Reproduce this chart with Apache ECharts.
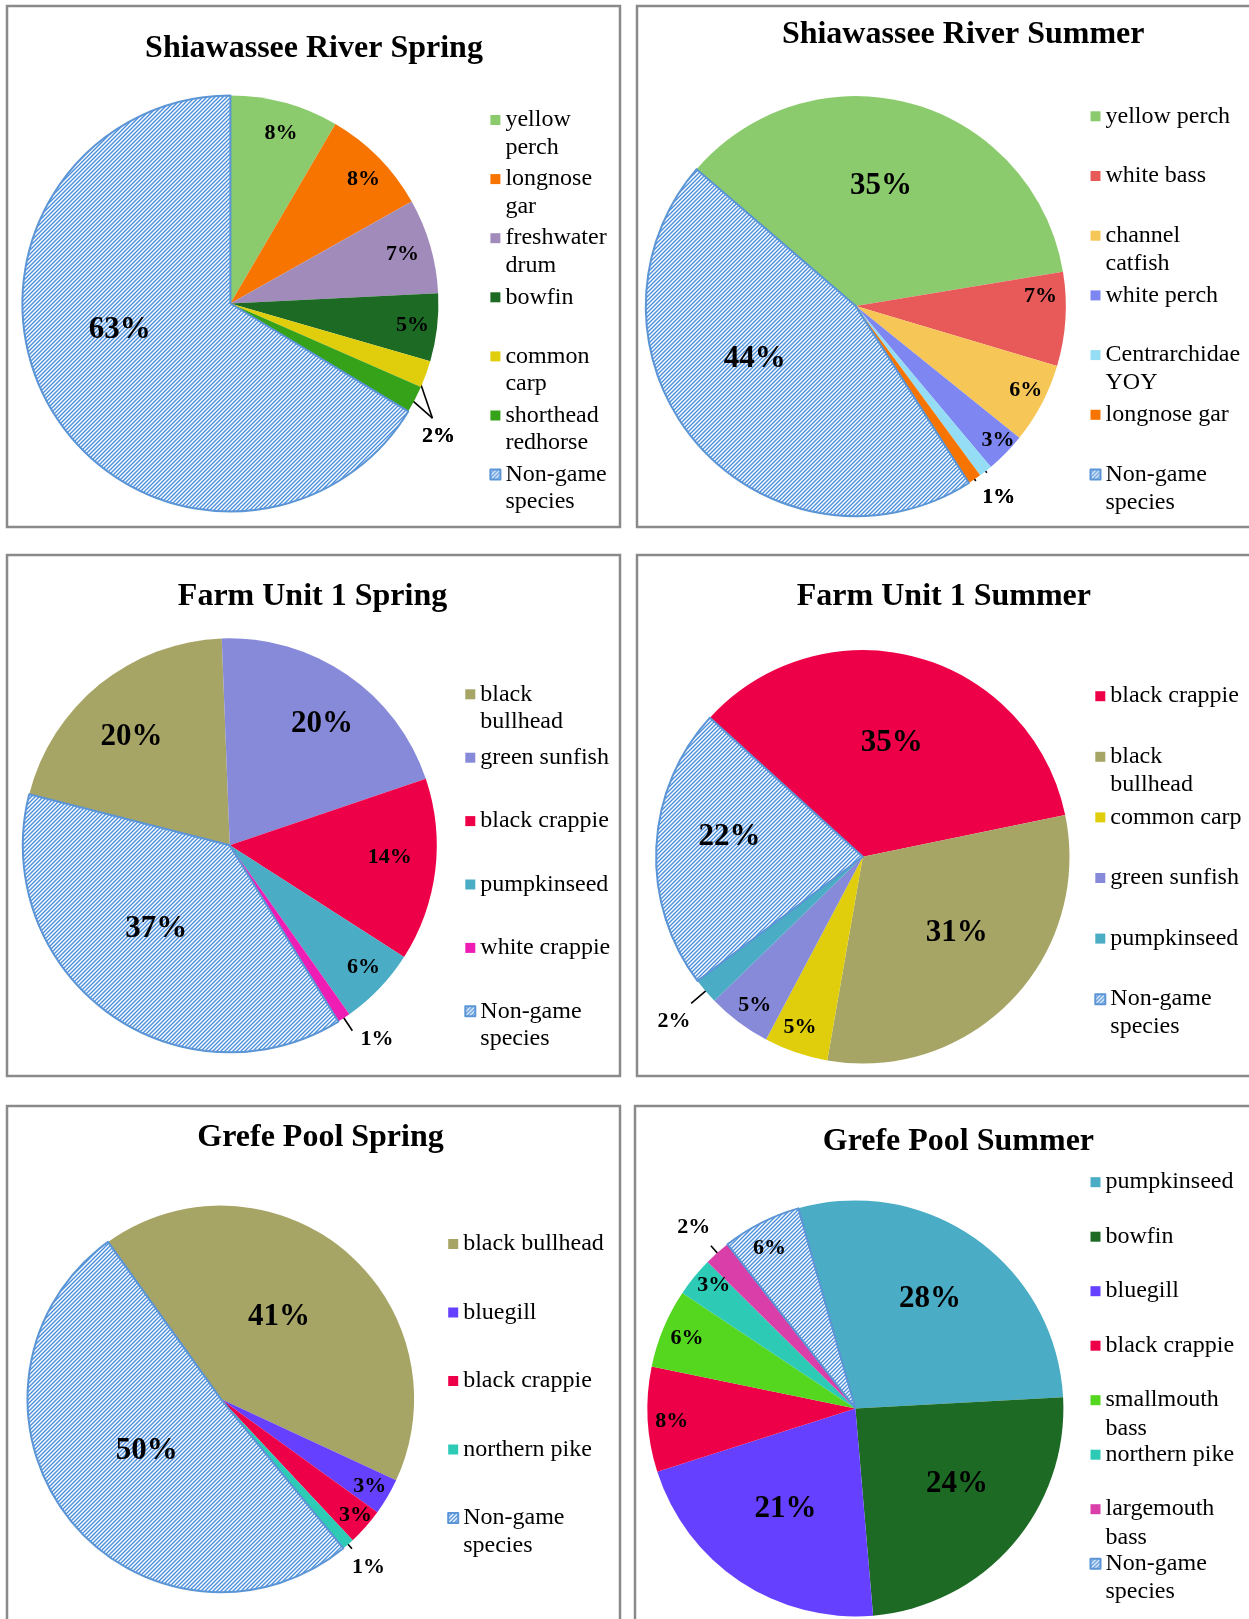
<!DOCTYPE html>
<html><head><meta charset="utf-8">
<script src="https://cdn.jsdelivr.net/npm/echarts@6/dist/echarts.min.js"></script>
<style>html,body{margin:0;padding:0;background:#fff}#c{width:1249px;height:1619px}</style>
</head><body><div id="c"></div>
<script>
// ---------- DATA ----------
const srSpringNames = ['yellow perch','longnose gar','freshwater drum','bowfin','common carp','shorthead redhorse','Non-game species'];
const srSpringValues = [8, 8, 7, 5, 2, 2, 63];
const srSpringLegend = ['yellow\nperch','longnose\ngar','freshwater\ndrum','bowfin\n ','common\ncarp','shorthead\nredhorse','Non-game\nspecies'];

const srSummerNames = ['yellow perch','white bass','channel catfish','white perch','Centrarchidae YOY','longnose gar','Non-game species'];
const srSummerValues = [35, 7, 6, 3, 1, 1, 44];
const srSummerLegend = ['yellow perch\n ','white bass\n ','channel\ncatfish','white perch\n ','Centrarchidae\nYOY','longnose gar\n ','Non-game\nspecies'];

const fuSpringNames = ['black bullhead','green sunfish','black crappie','pumpkinseed','white crappie','Non-game species'];
const fuSpringValues = [20, 20, 14, 6, 1, 37];
const fuSpringLegend = ['black\nbullhead','green sunfish\n ','black crappie\n ','pumpkinseed\n ','white crappie\n ','Non-game\nspecies'];

const fuSummerNames = ['black crappie','black bullhead','common carp','green sunfish','pumpkinseed','Non-game species'];
const fuSummerValues = [35, 31, 5, 5, 2, 22];
const fuSummerLegend = ['black crappie\n ','black\nbullhead','common carp\n ','green sunfish\n ','pumpkinseed\n ','Non-game\nspecies'];

const gpSpringNames = ['black bullhead','bluegill','black crappie','northern pike','Non-game species'];
const gpSpringValues = [41, 3, 3, 1, 50];
const gpSpringLegend = ['black bullhead\n ','bluegill\n ','black crappie\n ','northern pike\n ','Non-game\nspecies'];

const gpSummerNames = ['pumpkinseed','bowfin','bluegill','black crappie','smallmouth bass','northern pike','largemouth bass','Non-game species'];
const gpSummerValues = [28, 24, 21, 8, 6, 3, 2, 6];
const gpSummerLegend = ['pumpkinseed\n ','bowfin\n ','bluegill\n ','black crappie\n ','smallmouth\nbass','northern pike\n ','largemouth\nbass','Non-game\nspecies'];

// ---------- STYLE ----------
const colorMap = {
  'yellow perch':'#8BCB6D','longnose gar':'#F77400','freshwater drum':'#A18BBB','bowfin':'#1C6A23',
  'common carp':'#E0CE0C','shorthead redhorse':'#35A21A','white bass':'#E85A5A','channel catfish':'#F6C657',
  'white perch':'#7D86F1','Centrarchidae YOY':'#95DDF4','black bullhead':'#A7A566','green sunfish':'#878AD9',
  'black crappie':'#EE0048','pumpkinseed':'#4AACC5','white crappie':'#F01DB5','bluegill':'#6540FF',
  'northern pike':'#2DCAB5','smallmouth bass':'#55D61F','largemouth bass':'#DA3FA9'
};
const HATCH_BORDER = '#5B95D6';

function makeHatch() {
  const c = document.createElement('canvas');
  c.width = 4; c.height = 4;
  const g = c.getContext('2d');
  g.fillStyle = '#ffffff'; g.fillRect(0, 0, 4, 4);
  g.strokeStyle = '#4A8EDB'; g.lineWidth = 1.4;
  g.beginPath();
  g.moveTo(-1, 5); g.lineTo(5, -1);
  g.moveTo(-1, 1); g.lineTo(1, -1);
  g.moveTo(3, 5); g.lineTo(5, 3);
  g.stroke();
  return c;
}
const hatch = { image: makeHatch(), repeat: 'repeat' };

// legend: firstY = centre of first text line, slot = distance between items, lh = line height
const charts = [
  { title:'Shiawassee River Spring', names:srSpringNames, values:srSpringValues, legendText:srSpringLegend,
    titleX:314, titleY:46.5, cx:230.4, cy:303.5, r:208, firstAngle:0,
    labelK:[0.852,0.876,0.861,0.882,null,null,0.548], labelDA:[1.4,1.4,0.1,0.3,0,0,15.7],
    out:[{idx:[4,5], dA:8.9, k:1.187, lineFrom:0.95, apex:[5.9,1.117]}],
    legendLeft:489.4, firstY:120, slot:59.1, lh:27.5 },
  { title:'Shiawassee River Summer', names:srSummerNames, values:srSummerValues, legendText:srSummerLegend,
    titleX:963.2, titleY:32.5, cx:855.8, cy:306.1, r:210, firstAngle:-49.3,
    labelK:[0.584,0.881,0.904,0.932,null,null,0.543], labelDA:[-3.75,-6.7,-1.3,-1.0,0,0,13.4],
    out:[{idx:[4,5], dA:-0.45, k:1.138, lineFrom:0.94, lineTo:1.01}],
    legendLeft:1089.5, firstY:116.3, slot:59.7, lh:27.8 },
  { title:'Farm Unit 1 Spring', names:fuSpringNames, values:fuSpringValues, legendText:fuSpringLegend,
    titleX:312.5, titleY:595, cx:229.8, cy:845.3, r:207, firstAngle:-75.7,
    labelK:[0.707,0.735,0.775,0.873,null,0.539], labelDA:[-3.25,2.75,-2.6,-1.4,0,4.95],
    out:[{idx:[4], dA:-3.8, k:1.175, lineFrom:0.975, lineTo:1.074}],
    legendLeft:464.3, firstY:694.3, slot:63.4, lh:27.5 },
  { title:'Farm Unit 1 Summer', names:fuSummerNames, values:fuSummerValues, legendText:fuSummerLegend,
    titleX:943.9, titleY:595, cx:862.8, cy:856.8, r:206.7, firstAngle:-47.7,
    labelK:[0.57,0.584,0.879,0.89,null,0.652], labelDA:[-1.1,-5.2,1.3,-0.9,0,5.8],
    out:[{idx:[4], dA:-0.6, k:1.212, lineFrom:0.908, lineTo:1.092}],
    legendLeft:1094.3, firstY:696.2, slot:60.6, lh:27.6 },
  { title:'Grefe Pool Spring', names:gpSpringNames, values:gpSpringValues, legendText:gpSpringLegend,
    titleX:320.5, titleY:1135.8, cx:220.8, cy:1398.9, r:193.3, firstAngle:-35.7,
    labelK:[0.519,0.894,0.92,null,0.47], labelDA:[-4.1,0,-0.7,0,2.25],
    out:[{idx:[3], dA:-0.1, k:1.158, lineFrom:0.97, lineTo:1.03}],
    legendLeft:447.2, firstY:1244, slot:68.5, lh:27.5 },
  { title:'Grefe Pool Summer', names:gpSummerNames, values:gpSummerValues, legendText:gpSummerLegend,
    titleX:958.4, titleY:1140.2, cx:855.4, cy:1408.4, r:208, firstAngle:-15.9,
    labelK:[0.636,0.608,0.589,0.885,0.878,0.901,null,0.873], labelDA:[-1.15,-4.4,1.05,-0.9,0,1.7,0,-1.3],
    out:[{idx:[6], dA:-0.1, k:1.168, lineFrom:0.969, lineTo:1.046}],
    legendLeft:1089.5, firstY:1182.2, slot:54.5, lh:28.3 }
];

const panels = [
  [7, 6, 613, 521], [637, 6, 620, 521],
  [7, 555, 613, 521], [637, 555, 620, 521],
  [7, 1106, 613, 530], [635, 1106, 622, 530]
];

const SERIF = 'Liberation Serif';

function labelLayoutFor(cfg) {
  const total = cfg.values.reduce((a, b) => a + b, 0);
  let cum = 0;
  const mids = cfg.values.map(v => { const m = cfg.firstAngle + (cum + v / 2) / total * 360; cum += v; return m; });
  const pt = (deg, k) => { const a = deg * Math.PI / 180; return [cfg.cx + k * cfg.r * Math.sin(a), cfg.cy - k * cfg.r * Math.cos(a)]; };
  const res = cfg.values.map((v, i) => ({ pos: cfg.labelK[i] != null ? pt(mids[i] + cfg.labelDA[i], cfg.labelK[i]) : null }));
  cfg.out.forEach(g => {
    const mean = g.idx.reduce((s, i) => s + mids[i], 0) / g.idx.length;
    const lp = pt(mean + g.dA, g.k);
    g.idx.forEach(i => {
      const start = pt(mids[i], g.lineFrom);
      const end = g.apex ? pt(mean + g.apex[0], g.apex[1]) : pt(mids[i], g.lineTo);
      res[i] = { pos: lp, line: [start, end] };
    });
  });
  return res;
}

const series = [], legends = [], titles = [];
charts.forEach(cfg => {
  const lay = labelLayoutFor(cfg);
  const outSet = new Set();
  cfg.out.forEach(g => g.idx.forEach(i => outSet.add(i)));
  const data = cfg.names.map((n, i) => {
    const isNon = n === 'Non-game species';
    const v = cfg.values[i];
    return {
      name: n, value: v,
      itemStyle: isNon ? { color: hatch, borderColor: HATCH_BORDER, borderWidth: 2 } : { color: colorMap[n], borderWidth: 0 },
      label: { fontSize: v >= 20 ? 31 : 22, position: outSet.has(i) ? 'outside' : 'inside' },
      labelLine: { show: outSet.has(i), lineStyle: { color: '#000', width: 1.6 } }
    };
  });
  series.push({
    type: 'pie', name: cfg.title, center: [cfg.cx, cfg.cy], radius: cfg.r,
    startAngle: 90 - cfg.firstAngle, clockwise: true, avoidLabelOverlap: false,
    silent: true, animation: false,
    emphasis: { disabled: true },
    label: { show: true, formatter: '{c}%', color: '#000', fontFamily: SERIF, fontWeight: 'bold' },
    labelLine: { show: false },
    labelLayout: function (p) {
      const L = lay[p.dataIndex];
      const o = { x: L.pos[0], y: L.pos[1], align: 'center', verticalAlign: 'middle' };
      if (L.line) o.labelLinePoints = L.line;
      return o;
    },
    data: data
  });
  titles.push({
    text: cfg.title, left: cfg.titleX, top: cfg.titleY - 14, textAlign: 'center', padding: 0,
    textStyle: { fontFamily: SERIF, fontWeight: 'bold', fontSize: 32, color: '#000' }
  });
  // three text lines per item (blank, line 1, line 2) so that the icon sits beside line 1
  legends.push({
    orient: 'vertical', left: cfg.legendLeft, top: cfg.firstY - 1.5 * cfg.lh, padding: 0,
    itemGap: cfg.slot - 3 * cfg.lh, itemWidth: 10, itemHeight: 10, icon: 'rect', selectedMode: false,
    data: cfg.names.slice(),
    formatter: name => ' \n' + cfg.legendText[cfg.names.indexOf(name)],
    textStyle: { fontFamily: SERIF, fontSize: 24, color: '#000', lineHeight: cfg.lh }
  });
});

const chart = echarts.init(document.getElementById('c'), null, { renderer: 'canvas' });
chart.setOption({
  animation: false,
  backgroundColor: '#fff',
  title: titles,
  legend: legends,
  graphic: panels.map(p => ({
    type: 'rect', silent: true, z: -10,
    shape: { x: p[0], y: p[1], width: p[2], height: p[3] },
    style: { fill: 'none', stroke: '#8A8A8A', lineWidth: 2.5 }
  })),
  series: series
});
</script>
</body></html>
